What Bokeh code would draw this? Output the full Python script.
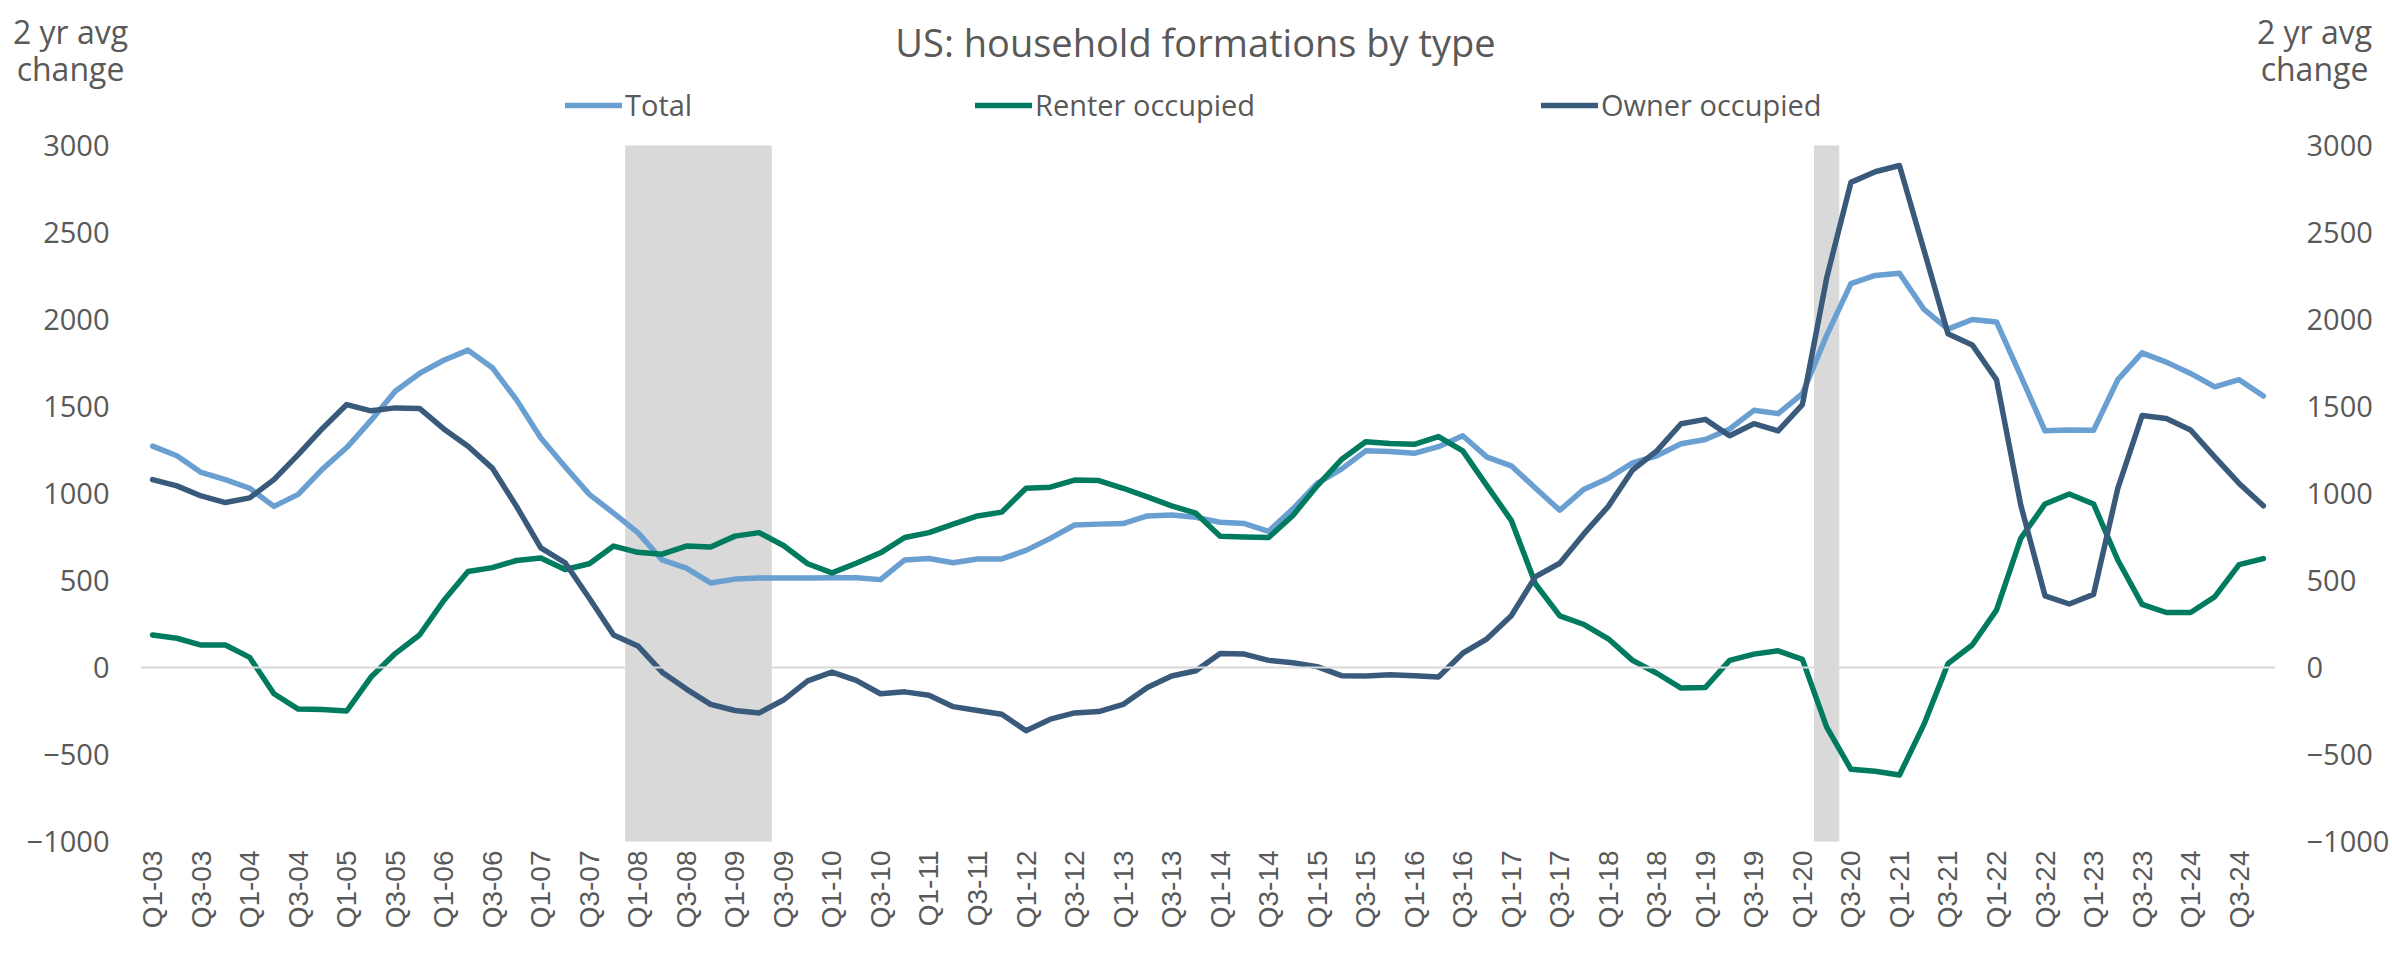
import math
from bokeh.plotting import figure
from bokeh.models import (Range1d, LinearAxis, FixedTicker, Span, Label, Legend, LegendItem,
                          ColumnDataSource)
from bokeh.embed import file_html
from bokeh.resources import INLINE

# ---------------- data ----------------
quarters = [f"Q{q}-{y:02d}" for y in range(3, 25) for q in (1, 2, 3, 4)]

total = [1272, 1217, 1121, 1080, 1030, 926, 995, 1140, 1264, 1420,
         1588, 1690, 1766, 1824, 1723, 1538, 1319, 1154, 995, 887,
         775, 618, 571, 486, 508, 514, 514, 514, 516, 516,
         505, 618, 626, 602, 624, 624, 673, 742, 819, 824,
         827, 871, 876, 863, 835, 827, 783, 912, 1058, 1140,
         1245, 1242, 1231, 1269, 1332, 1209, 1159, 1030, 904, 1025,
         1088, 1176, 1217, 1286, 1310, 1371, 1478, 1459, 1574, 1909,
         2206, 2253, 2266, 2060, 1945, 2000, 1986, 1676, 1360, 1365,
         1363, 1654, 1808, 1755, 1690, 1613, 1654, 1560]

renter = [187, 168, 129, 129, 58, -151, -239, -242, -250, -55,
          80, 187, 385, 552, 574, 615, 629, 563, 596, 698,
          662, 651, 698, 692, 755, 775, 701, 596, 544, 599,
          659, 747, 775, 824, 871, 893, 1030, 1036, 1077, 1074,
          1030, 981, 929, 887, 755, 750, 747, 874, 1044, 1195,
          1297, 1288, 1283, 1327, 1245, 1044, 846, 480, 297, 247,
          165, 41, -33, -118, -115, 41, 77, 96, 47, -343,
          -585, -596, -618, -330, 22, 129, 330, 742, 940, 997,
          940, 618, 363, 316, 316, 407, 591, 626]

owner = [1080, 1044, 986, 948, 975, 1080, 1223, 1374, 1511, 1475,
         1492, 1489, 1371, 1272, 1146, 926, 687, 602, 398, 187,
         124, -27, -124, -212, -247, -261, -187, -77, -27, -74,
         -151, -140, -159, -225, -247, -269, -363, -297, -261, -253,
         -212, -115, -49, -19, 80, 77, 41, 27, 5, -47,
         -49, -41, -47, -55, 82, 165, 297, 522, 599, 769,
         926, 1135, 1245, 1401, 1426, 1332, 1401, 1360, 1511, 2239,
         2788, 2849, 2885, 2404, 1918, 1854, 1654, 934, 412, 365,
         420, 1030, 1448, 1431, 1365, 1209, 1058, 929]

recession_quarters = ["Q1-08", "Q2-08", "Q3-08", "Q4-08", "Q1-09", "Q2-09", "Q2-20"]

y_ticks = [-1000, -500, 0, 500, 1000, 1500, 2000, 2500, 3000]
y_min, y_max = -1000, 3000

title_text = "US: household formations by type"
axis_title = ["2 yr avg", "change"]
series_names = ["Total", "Renter occupied", "Owner occupied"]

# ---------------- styling / layout ----------------
C_TOTAL = "#6A9FD2"
C_RENTER = "#007B5F"
C_OWNER = "#3A5A7C"
C_SHADE = "#D9D9D9"
C_TEXT = "#595959"
FONT = "Open Sans"
FS = "29px"
LW = 5.5
colors = [C_TOTAL, C_RENTER, C_OWNER]

W, H = 2392, 955
HEAD_H = 125
FRAME_L, FRAME_R, FRAME_T, FRAME_B = 140, 2276, 145, 841
MAIN_H = H - HEAD_H

# ---------------- header (title, axis titles, legend) ----------------
head = figure(width=W, height=HEAD_H, x_range=Range1d(0, W), y_range=Range1d(HEAD_H, 0),
              output_backend="svg", toolbar_location=None,
              x_axis_type=None, y_axis_type=None,
              min_border=0, min_border_left=0, min_border_right=0,
              min_border_top=0, min_border_bottom=0)
head.outline_line_color = None
head.xgrid.visible = False
head.ygrid.visible = False

def head_label(text, x, y, size):
    head.add_layout(Label(x=x, y=y, text=text, text_font=FONT, text_font_size=size,
                          text_color=C_TEXT, text_align="center", text_baseline="alphabetic"))

head_label(title_text, 1195, 41, "38px")
for cx in (70, 2314):
    head_label(axis_title[0], cx, 31, "32px")
    head_label(axis_title[1], cx, 68, "32px")

# legend keys (styled like the series lines; no visible data), one legend per item
nan = float("nan")
for name, col, x in zip(series_names, colors, (565, 975, 1541)):
    key = head.line(x=[nan], y=[nan], line_color=col, line_width=LW, line_cap="round")
    lg = Legend(items=[LegendItem(label=name, renderers=[key])], location=(x, 1),
                orientation="horizontal", padding=0, margin=0, spacing=0,
                glyph_width=57, glyph_height=14, label_height=14, label_standoff=3,
                label_text_font=FONT, label_text_font_size=FS, label_text_color=C_TEXT,
                border_line_color=None, background_fill_alpha=0)
    head.add_layout(lg, "center")

# ---------------- main chart ----------------
xs = list(range(len(quarters)))
src = ColumnDataSource(dict(x=xs, total=total, renter=renter, owner=owner))
rec_x = [quarters.index(q) for q in recession_quarters]
rec_src = ColumnDataSource(dict(x=rec_x, top=[y_max] * len(rec_x), bottom=[y_min] * len(rec_x)))

p = figure(width=W, height=MAIN_H,
           x_range=Range1d(-0.5, len(quarters) - 0.5),
           y_range=Range1d(y_min, y_max),
           output_backend="svg", toolbar_location=None,
           min_border_left=FRAME_L, min_border_right=W - FRAME_R,
           min_border_top=FRAME_T - HEAD_H, min_border_bottom=H - FRAME_B)
p.outline_line_color = None
p.xgrid.visible = False
p.ygrid.visible = False

# recession shading
p.vbar(x="x", top="top", bottom="bottom", width=1.0, source=rec_src,
       fill_color=C_SHADE, line_color=C_SHADE, line_width=1)

# zero line
p.add_layout(Span(location=0, dimension="width", line_color=C_SHADE, line_width=2))

# series
for col_name, col in zip(("total", "renter", "owner"), colors):
    p.line("x", col_name, source=src, line_color=col, line_width=LW,
           line_join="round", line_cap="round")

# x axis
xa = p.xaxis[0]
xa.ticker = FixedTicker(ticks=list(range(0, len(quarters), 2)))
xa.major_label_overrides = {i: quarters[i] for i in range(0, len(quarters), 2)}
xa.major_label_orientation = math.pi / 2
xa.axis_line_color = None
xa.major_tick_line_color = None
xa.minor_tick_line_color = None
xa.major_tick_out = 0
xa.major_label_standoff = 9
xa.major_label_text_font = "Liberation Sans"
xa.major_label_text_font_size = "28px"
xa.major_label_text_color = C_TEXT

# y axes
def style_y(ax):
    ax.ticker = FixedTicker(ticks=y_ticks)
    ax.axis_line_color = None
    ax.major_tick_line_color = None
    ax.minor_tick_line_color = None
    ax.major_tick_out = 0
    ax.major_label_standoff = 31
    ax.major_label_text_font = FONT
    ax.major_label_text_font_size = FS
    ax.major_label_text_color = C_TEXT

style_y(p.yaxis[0])
ra = LinearAxis()
style_y(ra)
p.add_layout(ra, "right")

open("out.html", "w").write(file_html([head, p], INLINE))
